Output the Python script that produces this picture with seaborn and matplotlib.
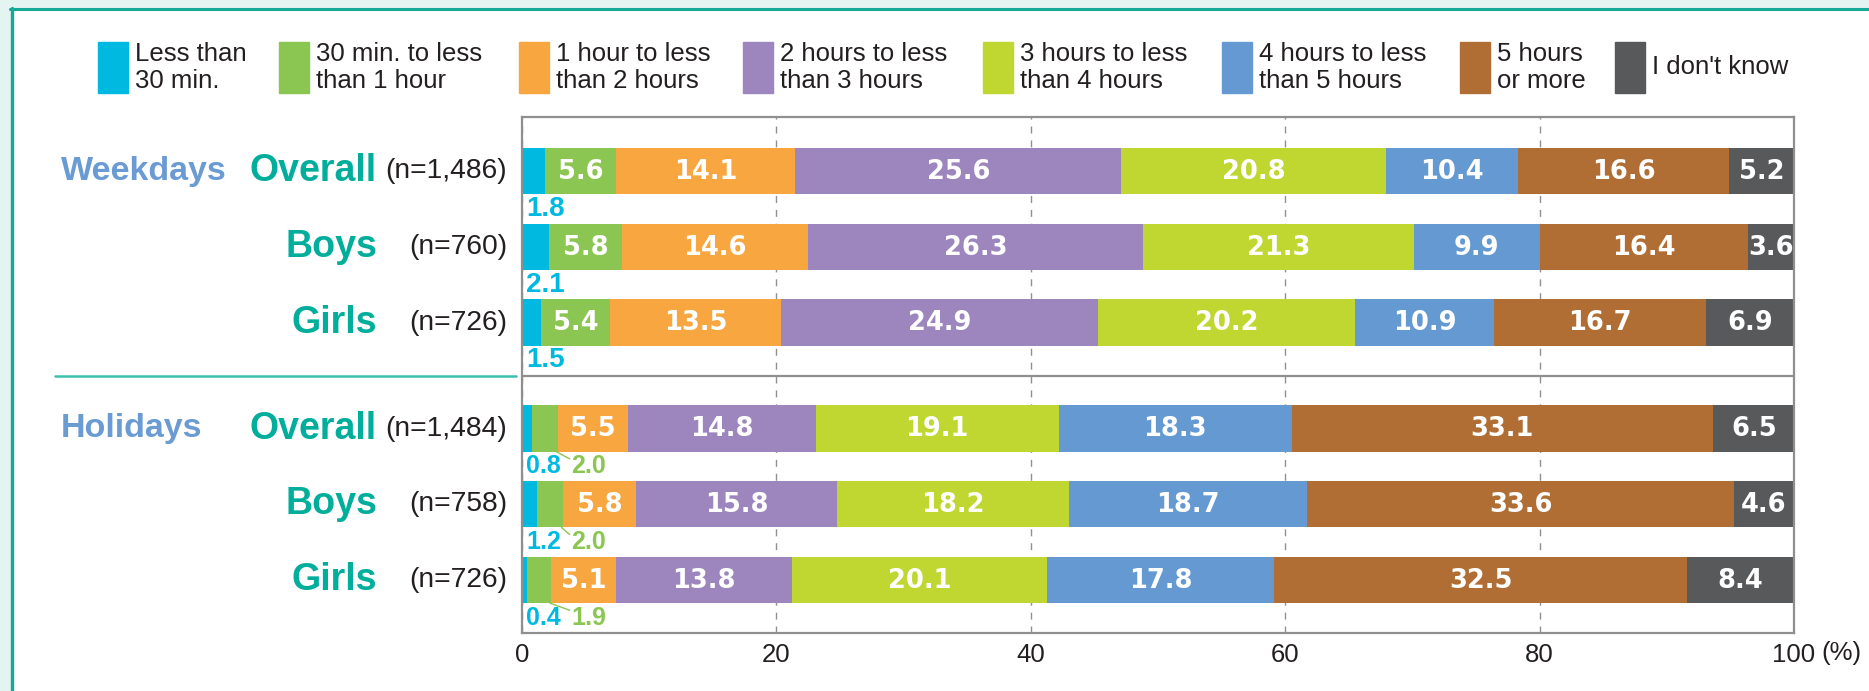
import matplotlib
matplotlib.use("Agg")
import matplotlib.pyplot as plt
from matplotlib import font_manager
from matplotlib.patches import Rectangle
from matplotlib.lines import Line2D
import numpy as np
import pandas as pd
import seaborn as sns

# ---- data -------------------------------------------------------------
categories = [
    "Less than\n30 min.",
    "30 min. to less\nthan 1 hour",
    "1 hour to less\nthan 2 hours",
    "2 hours to less\nthan 3 hours",
    "3 hours to less\nthan 4 hours",
    "4 hours to less\nthan 5 hours",
    "5 hours\nor more",
    "I don't know",
]
periods = ["Weekdays", "Holidays"]
groups = ["Overall", "Boys", "Girls"]
sample_sizes = ["(n=1,486)", "(n=760)", "(n=726)", "(n=1,484)", "(n=758)", "(n=726)"]

weekday_overall = [1.8, 5.6, 14.1, 25.6, 20.8, 10.4, 16.6, 5.2]
weekday_boys = [2.1, 5.8, 14.6, 26.3, 21.3, 9.9, 16.4, 3.6]
weekday_girls = [1.5, 5.4, 13.5, 24.9, 20.2, 10.9, 16.7, 6.9]
holiday_overall = [0.8, 2.0, 5.5, 14.8, 19.1, 18.3, 33.1, 6.5]
holiday_boys = [1.2, 2.0, 5.8, 15.8, 18.2, 18.7, 33.6, 4.6]
holiday_girls = [0.4, 1.9, 5.1, 13.8, 20.1, 17.8, 32.5, 8.4]

x_ticks = [0, 20, 40, 60, 80, 100]

# ---- styling ----------------------------------------------------------
colors = ["#00b9e0", "#8bc652", "#f8a63f", "#9c86bd", "#bfd730",
          "#6599d2", "#b06e35", "#58595b"]
period_color = "#6a9bd3"
group_color = "#00ae9b"
text_color = "#231f20"
frame_teal = "#14aa98"
back_teal = "#e3f4f1"
axis_gray = "#8f8f8f"

sns.set_theme(style="white")
plt.rcParams["font.family"] = ["Liberation Sans", "DejaVu Sans"]
installed = {f.name for f in font_manager.fontManager.ttflist}
narrow_candidates = ["Liberation Sans Narrow", "DejaVu Sans Condensed"]
narrow_found = [n for n in narrow_candidates if n in installed]
narrow_family = [narrow_found[0], "Liberation Sans"] if narrow_found else ["Liberation Sans"]
narrow_size = 20 if narrow_found else 18
value_family = ["DejaVu Sans"]

W, H = 1869, 691
fig = plt.figure(figsize=(W / 100, H / 100), dpi=100, facecolor="white")

# page frame: pale strips with teal rules along the top and left edges
fig.patches.append(Rectangle((0, 1 - 7 / H), 1, 7 / H, transform=fig.transFigure,
                             color=back_teal, zorder=0))
fig.patches.append(Rectangle((0, 0), 10 / W, 1, transform=fig.transFigure,
                             color=back_teal, zorder=0))
fig.lines.append(Line2D([10 / W, 1], [1 - 8.5 / H, 1 - 8.5 / H], transform=fig.transFigure,
                        color=frame_teal, lw=2.2))
fig.lines.append(Line2D([11.5 / W, 11.5 / W], [0, 1 - 7.5 / H], transform=fig.transFigure,
                        color=frame_teal, lw=2.4))

ax = fig.add_axes([522 / W, (H - 633) / H, 1272 / W, 516 / H])

rows = np.array([weekday_overall, weekday_boys, weekday_girls,
                 holiday_overall, holiday_boys, holiday_girls])
row_pos = [0, 1, 2, 3.4, 4.4, 5.4]
cum = rows.cumsum(axis=1)
bar_h = 0.61

# stacked bars: draw cumulative totals from the outermost segment inwards
for k in reversed(range(len(categories))):
    seg = pd.DataFrame({"end": cum[:, k], "pos": row_pos})
    sns.barplot(data=seg, x="end", y="pos", orient="h", native_scale=True,
                color=colors[k], saturation=1, width=bar_h, linewidth=0,
                ax=ax, zorder=2)

# value labels
for i, pos in enumerate(row_pos):
    is_holiday = i >= 3
    for k, v in enumerate(rows[i]):
        mid = cum[i, k] - v / 2
        if v >= 2.5:
            ax.text(mid, pos + 0.01, f"{v:.1f}", color="white", fontsize=18.5,
                    fontweight="bold", ha="center", va="center", zorder=4,
                    family=value_family)
        elif k == 0:
            ax.text(0.35, pos + 0.50, f"{v:.1f}", color=colors[0],
                    fontsize=narrow_size if is_holiday else 20,
                    fontweight="bold", ha="left", va="center", zorder=4,
                    family=narrow_family if is_holiday else None)
        else:
            ax.plot([cum[i, k] - 0.1, 3.75], [pos + bar_h / 2, pos + 0.40],
                    color=colors[k], lw=1, zorder=3, clip_on=False)
            ax.text(3.9, pos + 0.50, f"{v:.1f}", color=colors[k], fontsize=narrow_size,
                    fontweight="bold", ha="left", va="center", zorder=4,
                    family=narrow_family)

# axes styling
ax.set_xlim(0, 100)
ax.set_ylim(6.10, -0.715)
ax.set_xticks(x_ticks)
ax.set_xticklabels([str(t) for t in x_ticks])
ax.set_yticks([])
ax.set_xlabel("")
ax.set_ylabel("")
ax.tick_params(axis="x", length=0, pad=7, labelsize=18.5, labelcolor=text_color)
ax.grid(False)
ax.xaxis.grid(True, linestyle=(0, (5, 5)), color="#909090", lw=1)
ax.set_axisbelow(True)
for sp in ax.spines.values():
    sp.set_visible(True)
    sp.set_color(axis_gray)
    sp.set_linewidth(1.6)
ax.axhline(2.70, color=axis_gray, lw=1.6, zorder=1)
ax.annotate("(%)", xy=(1, 0), xycoords="axes fraction", xytext=(20, -14.5),
            textcoords="offset points", ha="left", va="center",
            fontsize=18.5, color=text_color)

# row labels on the left
ytr = ax.get_yaxis_transform()
for p, period in enumerate(periods):
    ax.text(-0.3624, row_pos[3 * p], period, transform=ytr, ha="left", va="center",
            fontsize=24.5, fontweight="bold", color=period_color)
for i, pos in enumerate(row_pos):
    ax.text(-0.114, pos, groups[i % 3], transform=ytr, ha="right", va="center",
            fontsize=27, fontweight="bold", color=group_color)
    ax.text(-0.0118, pos, sample_sizes[i], transform=ytr, ha="right", va="center",
            fontsize=20.3, color=text_color)
ax.add_line(Line2D([-0.367, -0.0047], [2.70, 2.70], transform=ytr,
                   color="#3dbfae", lw=1.8, clip_on=False))

# legend along the top
legend_x = [98, 279, 519, 743, 983, 1222, 1460, 1615]
for k, label in enumerate(categories):
    x0 = legend_x[k] / W
    fig.patches.append(Rectangle((x0, 1 - 93 / H), 30 / W, 51 / H,
                                 transform=fig.transFigure, color=colors[k]))
    fig.text(x0 + 37 / W, 1 - 67.5 / H, label, ha="left", va="center",
             fontsize=18.5, color=text_color, linespacing=1.18)

fig.savefig("out.png", dpi=100, facecolor="white")
